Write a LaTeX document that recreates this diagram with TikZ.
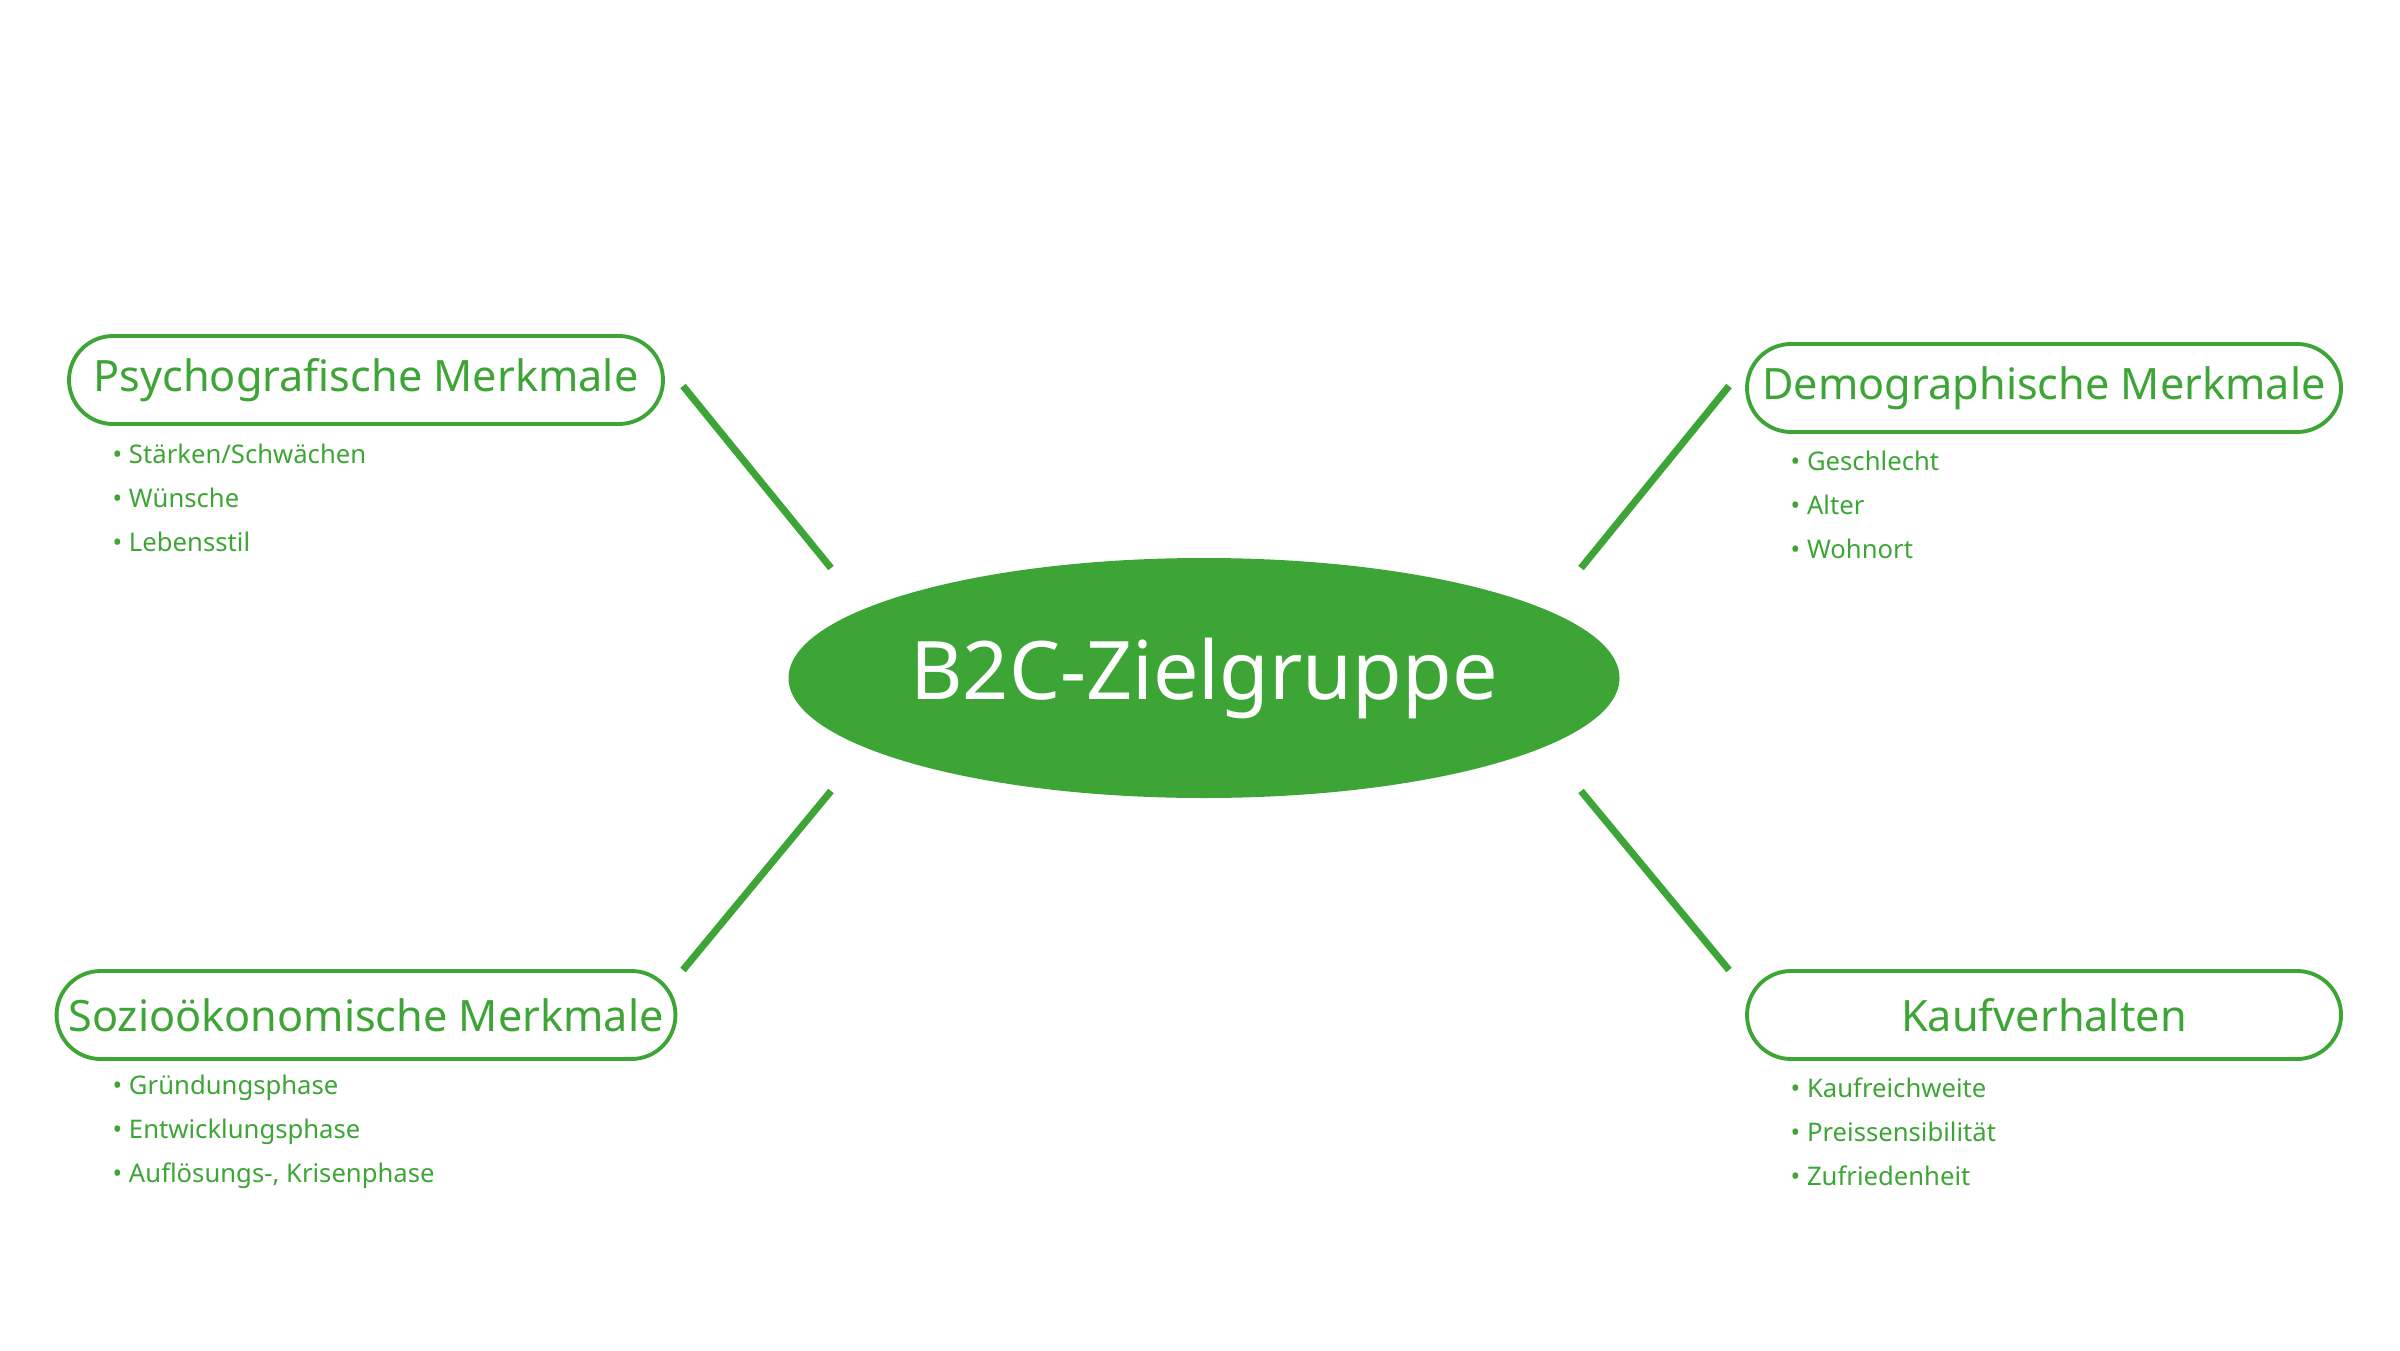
\documentclass[tikz,border=0pt]{standalone}
\usepackage{fontspec}
\setmainfont{Noto Sans}
\usepackage{tikz}
\usetikzlibrary{shapes.geometric}
\definecolor{gruen}{HTML}{3DA535}
\tikzstyle{zentrum}=[ellipse, fill=gruen, text=white, inner sep=0pt, minimum width=8.31cm, minimum height=2.4cm, font=\fontsize{23}{26}\selectfont]
\tikzstyle{merkmal}=[rounded corners=0.44cm, draw=gruen, line width=1.1pt, text=gruen, minimum width=5.94cm, minimum height=0.88cm, font=\fontsize{12.3}{14}\selectfont]
\tikzstyle{punkt}=[anchor=west, text=gruen, inner sep=0pt, font=\fontsize{7.3}{9}\selectfont]
\tikzstyle{ast}=[draw=gruen, line width=2pt]

\begin{document}
\begin{tikzpicture}
		   \useasboundingbox (0,0) rectangle (24,13.5);
		   \begin{scope}
			   \node (z) at (12.04, 6.72) [zentrum] {B2C-Zielgruppe};
			   \node (psy) at (3.66, 9.70) [merkmal] {Psychografische Merkmale};
			   \node (dem) at (20.44, 9.62) [merkmal] {Demographische Merkmale};
			   \node (soz) at (3.66, 3.35) [merkmal] {Sozioökonomische Merkmale};
			   \node (kauf) at (20.44, 3.35) [merkmal] {Kaufverhalten};

			   \node (psy1) at (1.12, 8.96) [punkt] {• Stärken/Schwächen};
			   \node (psy2) at (1.12, 8.52) [punkt] {• Wünsche};
			   \node (psy3) at (1.12, 8.08) [punkt] {• Lebensstil};

			   \node (dem1) at (17.90, 8.89) [punkt] {• Geschlecht};
			   \node (dem2) at (17.90, 8.45) [punkt] {• Alter};
			   \node (dem3) at (17.90, 8.01) [punkt] {• Wohnort};

			   \node (soz1) at (1.12, 2.62) [punkt] {• Gründungsphase};
			   \node (soz2) at (1.12, 2.18) [punkt] {• Entwicklungsphase};
			   \node (soz3) at (1.12, 1.74) [punkt] {• Auflösungs-, Krisenphase};

			   \node (kauf1) at (17.90, 2.62) [punkt] {• Kaufreichweite};
			   \node (kauf2) at (17.90, 2.18) [punkt] {• Preissensibilität};
			   \node (kauf3) at (17.90, 1.74) [punkt] {• Zufriedenheit};

			   \coordinate (a1) at (6.83, 9.64);
			   \coordinate (a2) at (8.31, 7.82);
			   \coordinate (b1) at (17.29, 9.64);
			   \coordinate (b2) at (15.81, 7.82);
			   \coordinate (c1) at (6.83, 3.80);
			   \coordinate (c2) at (8.31, 5.59);
			   \coordinate (d1) at (17.29, 3.80);
			   \coordinate (d2) at (15.81, 5.59);
		   \end{scope}
		   \begin{scope}
			   \path [ast] (a1) edge (a2);
			   \path [ast] (b1) edge (b2);
			   \path [ast] (c1) edge (c2);
			   \path [ast] (d1) edge (d2);
		   \end{scope}
	   \end{tikzpicture}
\end{document}
